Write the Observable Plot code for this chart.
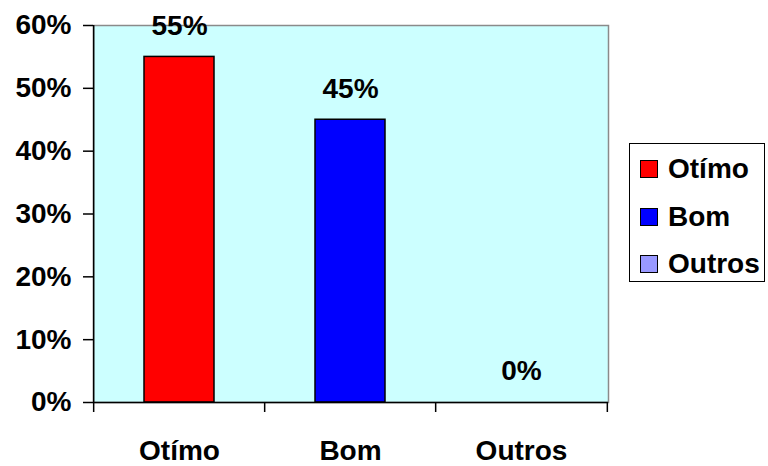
<!DOCTYPE html>
<html>
<head>
<meta charset="utf-8">
<script src="https://cdn.jsdelivr.net/npm/d3@7"></script>
<script src="https://cdn.jsdelivr.net/npm/@observablehq/plot@0.6"></script>
<style>
  html, body { margin: 0; padding: 0; background: #fff; }
  #wrap { position: relative; width: 768px; height: 466px; font-family: "Liberation Sans", Arial, sans-serif; font-weight: bold; }
  #legend { position: absolute; left: 629px; top: 143px; width: 136px; height: 139px; box-sizing: border-box; border: 1.5px solid #000; background: #fff; }
  .row { position: absolute; left: 10px; height: 28px; display: flex; align-items: center; font-size: 28px; color: #000; }
  .sw { width: 16px; height: 16px; border: 1.5px solid #000; margin-right: 10px; }
</style>
</head>
<body>
<div id="wrap"></div>
<script>
const categories = ["Otímo", "Bom", "Outros"];
const values = [0.55, 0.45, 0];
const colors = ["#FF0000", "#0000FF", "#9999FF"];
const yTicks = [0, 0.1, 0.2, 0.3, 0.4, 0.5, 0.6];

const data = categories.map((c, i) => ({cat: c, value: values[i]}));

const W = 768, H = 466, mL = 93, mR = 160, mT = 25, mB = 64;
const step = (W - mL - mR) / categories.length;
const font = "Liberation Sans, Arial, sans-serif";

const chart = Plot.plot({
  width: W,
  height: H,
  marginLeft: mL,
  marginRight: mR,
  marginTop: mT,
  marginBottom: mB,
  style: {fontFamily: font, fontWeight: "bold", fontSize: "28px", color: "#000", background: "transparent"},
  x: {domain: categories, paddingInner: 0.59, paddingOuter: 0.295},
  y: {domain: [0, 0.6]},
  color: {domain: categories, range: colors},
  marks: [
    Plot.frame({fill: "#CCFFFF", stroke: "#8a8a8a", strokeWidth: 1.5}),
    Plot.barY(data, {x: "cat", y: "value", fill: "cat", stroke: "#000", strokeWidth: 1.5}),
    Plot.text(data, {x: "cat", y: "value", text: d => d3.format(".0%")(d.value), dy: -31, fontSize: 28, fontWeight: "bold", fill: "#000"}),
    Plot.ruleY([0], {stroke: "#000", strokeWidth: 1.5}),
    Plot.ruleX([categories[0]], {y1: 0, y2: 0.6, dx: -step / 2, stroke: "#000", strokeWidth: 1.5}),
    Plot.axisY({ticks: yTicks, tickFormat: d3.format(".0%"), tickSize: 10, tickPadding: 12, fontSize: 28, fontWeight: "bold", label: null, stroke: "#000", strokeWidth: 1.5}),
    Plot.axisX({tickSize: 0, tickPadding: 38, fontSize: 28, fontWeight: "bold", label: null}),
    Plot.axisX({ticks: categories, tickSize: 10, dx: -step / 2, tickFormat: () => "", label: null, stroke: "#000", strokeWidth: 1.5}),
    Plot.axisX({ticks: [categories[categories.length - 1]], tickSize: 10, dx: step / 2, tickFormat: () => "", label: null, stroke: "#000", strokeWidth: 1.5})
  ]
});

const wrap = document.getElementById("wrap");
wrap.appendChild(chart);

const legend = document.createElement("div");
legend.id = "legend";
const rowCenters = [25, 73, 120];
categories.forEach((c, i) => {
  const row = document.createElement("div");
  row.className = "row";
  row.style.top = (rowCenters[i] - 14) + "px";
  const sw = document.createElement("div");
  sw.className = "sw";
  sw.style.background = colors[i];
  const t = document.createElement("span");
  t.textContent = c;
  row.appendChild(sw);
  row.appendChild(t);
  legend.appendChild(row);
});
wrap.appendChild(legend);
</script>
</body>
</html>
